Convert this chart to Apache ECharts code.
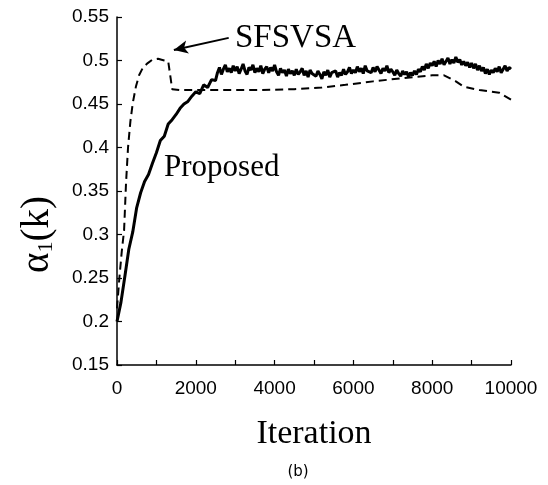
<!DOCTYPE html>
<html>
<head>
<meta charset="utf-8">
<script src="https://cdn.jsdelivr.net/npm/echarts@6/dist/echarts.min.js"></script>
<style>html,body{margin:0;padding:0;background:#fff}#c{width:548px;height:485px}</style>
</head>
<body>
<div id="c"></div>
<script>
// Proposed: iterations 0..2500 step 100, then 2550..10000 step 50
var propIter = [];
for (var i = 0; i <= 25; i++) propIter.push(i * 100);
for (var j = 2550; j <= 10000; j += 50) propIter.push(j);
var propVal = [
0.200,0.222,0.252,0.283,0.303,0.331,0.348,0.361,0.369,0.382,
0.394,0.408,0.413,0.427,0.432,0.438,0.445,0.450,0.453,0.459,
0.464,0.462,0.472,0.469,0.478,0.477,
0.486,0.492,0.484,0.490,0.495,0.487,0.491,0.486,0.494,0.488,
0.493,0.485,0.490,0.496,0.488,0.484,0.492,0.489,0.495,0.486,
0.491,0.487,0.494,0.485,0.490,0.493,0.486,0.492,0.488,0.495,
0.487,0.483,0.491,0.486,0.489,0.482,0.490,0.485,0.488,0.483,
0.490,0.484,0.487,0.491,0.483,0.488,0.481,0.489,0.485,0.487,
0.482,0.488,0.484,0.479,0.487,0.483,0.489,0.481,0.486,0.484,
0.488,0.481,0.486,0.483,0.490,0.484,0.487,0.492,0.485,0.489,
0.486,0.493,0.487,0.491,0.485,0.494,0.488,0.490,0.486,0.492,
0.487,0.493,0.489,0.485,0.491,0.488,0.494,0.486,0.490,0.487,
0.483,0.489,0.485,0.482,0.488,0.484,0.487,0.481,0.486,0.483,
0.488,0.484,0.490,0.487,0.493,0.489,0.496,0.491,0.497,0.494,
0.499,0.493,0.500,0.496,0.502,0.495,0.499,0.503,0.496,0.501,
0.497,0.504,0.498,0.501,0.495,0.499,0.494,0.498,0.492,0.497,
0.491,0.496,0.489,0.494,0.488,0.492,0.485,0.490,0.484,0.489,
0.486,0.491,0.487,0.493,0.486,0.490,0.494,0.488,0.492,0.490];
// SFSVSA
var sfsIter = [0,60,120,180,230,280,340,400,480,560,660,780,900,1040,1200,1300,1360,1400,1600,2500,3500,4500,5200,5800,6500,7300,8000,8300,8600,8800,9200,9700,10000];
var sfsVal  = [0.215,0.25,0.28,0.305,0.36,0.40,0.43,0.451,0.470,0.483,0.492,0.497,0.501,0.502,0.500,0.499,0.480,0.467,0.466,0.466,0.466,0.467,0.469,0.472,0.476,0.480,0.483,0.483,0.476,0.470,0.466,0.463,0.455];
var xTicks = [0,2000,4000,6000,8000,10000];
var yTicks = [0.15,0.2,0.25,0.3,0.35,0.4,0.45,0.5,0.55];

function pairs(a,b){var r=[];for(var i=0;i<a.length;i++)r.push([a[i],b[i]]);return r;}

var chart = echarts.init(document.getElementById('c'), null, {renderer:'canvas'});
var axisFont = {color:'#000', fontFamily:'Liberation Sans, Arial', fontSize:19};
chart.setOption({
  animation:false,
  backgroundColor:'#fff',
  grid:{left:117, right:37, top:17, bottom:120},
  xAxis:{
    type:'value', min:0, max:10000, interval:1000,
    axisLine:{lineStyle:{color:'#000', width:1.5}},
    axisTick:{inside:true, length:5, lineStyle:{color:'#000', width:1.2}},
    splitLine:{show:false},
    axisLabel:Object.assign({margin:14, formatter:function(v){return xTicks.indexOf(v)>=0?String(v):'';}}, axisFont),
    name:'Iteration', nameLocation:'middle', nameGap:52,
    nameTextStyle:{fontFamily:'Liberation Serif, Times New Roman', fontSize:34, color:'#000'}
  },
  yAxis:{
    type:'value', min:0.15, max:0.55, interval:0.05,
    axisLine:{lineStyle:{color:'#000', width:1.5}},
    axisTick:{inside:true, length:5, lineStyle:{color:'#000', width:1.2}},
    splitLine:{show:false},
    axisLabel:Object.assign({margin:8, formatter:function(v){var r=Math.round(v*100)/100;return yTicks.indexOf(r)>=0?String(r):'';}}, axisFont)
  },
  series:[
    {type:'line', name:'SFSVSA', data:pairs(sfsIter,sfsVal), showSymbol:false, symbol:'none',
     lineStyle:{color:'#000', width:2, type:[8,5]},
     markLine:{silent:true, symbol:['none','arrow'], symbolSize:[10,14], label:{show:false},
       lineStyle:{color:'#000', width:2, type:'solid'},
       data:[[{coord:[2835,0.526]},{coord:[1443,0.512]}]]}},
    {type:'line', name:'Proposed', data:pairs(propIter,propVal), showSymbol:false, symbol:'none',
     lineStyle:{color:'#000', width:3}}
  ],
  graphic:[
    {type:'text', x:235, y:22, style:{text:'SFSVSA', fill:'#000', font:'33px "Liberation Serif", "Times New Roman", serif'}},
    {type:'text', x:164, y:152, style:{text:'Proposed', fill:'#000', font:'31px "Liberation Serif", "Times New Roman", serif'}},
    {type:'text', x:18, y:273, rotation:Math.PI/2,
     style:{text:'{a|α}{s|1}{a|(k)}', fill:'#000',
       rich:{a:{fontFamily:'Liberation Serif, Times New Roman', fontSize:39, color:'#000'},
             s:{fontFamily:'Liberation Serif, Times New Roman', fontSize:22, color:'#000', verticalAlign:'bottom', padding:[14,0,0,0]}}}},
    {type:'text', x:298, y:472, style:{text:'(b)', fill:'#000', font:'15px "DejaVu Sans", sans-serif', textAlign:'center', textVerticalAlign:'middle'}}
  ]
});
</script>
</body>
</html>
